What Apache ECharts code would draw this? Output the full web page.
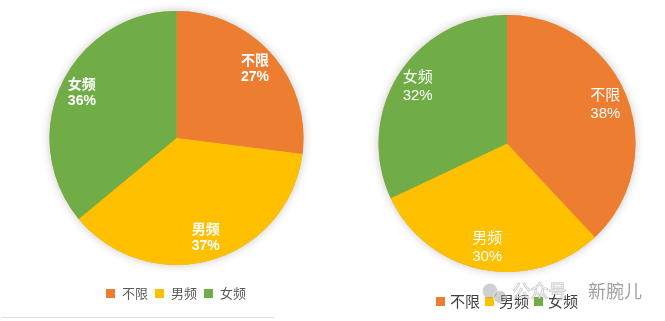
<!DOCTYPE html>
<html><head><meta charset="utf-8">
<script src="https://cdn.jsdelivr.net/npm/echarts@6/dist/echarts.min.js"></script>
<style>html,body{margin:0;padding:0;background:#fff}#c{width:665px;height:321px}</style>
</head><body><div id="c"></div>
<script>
const categories = ['不限', '男频', '女频'];
const leftValues = [27, 37, 36];
const rightValues = [38, 30, 32];
const colors = ['#ED7D31', '#FFC000', '#70AD47'];
const FONT = '"Liberation Sans", "Noto Sans CJK SC", sans-serif';
const FONT_CJK = '"Noto Sans CJK SC", "Noto Sans", sans-serif';

function toData(vals) { return categories.map((c, i) => ({ name: c, value: vals[i], itemStyle: { color: colors[i], borderWidth: 0 } })); }

function pieSet(vals, center, R, labelStyle) {
  return [
    { type: 'pie', silent: true, center: center, radius: R, startAngle: 90, label: { show: false },
      data: [{ name: '_bg', value: 1, itemStyle: { color: '#d9a03c', borderWidth: 0, shadowBlur: 10, shadowColor: 'rgba(0,0,0,0.22)' } }], z: 1 },
    { type: 'pie', silent: true, center: center, radius: R, startAngle: 90, clockwise: true,
      label: { show: false }, labelLine: { show: false }, data: toData(vals), z: 2 },
    { type: 'pie', silent: true, center: center, radius: [R * 0.6, R], startAngle: 90, clockwise: true,
      itemStyle: { color: 'rgba(0,0,0,0)', borderWidth: 0 }, labelLine: { show: false },
      label: Object.assign({ show: true, position: 'inside', color: '#fff', fontFamily: FONT,
        formatter: p => p.name + '\n' + p.value + '%' }, labelStyle),
      data: categories.map((c, i) => ({ name: c, value: vals[i], itemStyle: { color: 'rgba(0,0,0,0)' } })), z: 3 }
  ];
}

const chart = echarts.init(document.getElementById('c'));
chart.setOption({
  animation: false,
  backgroundColor: '#fff',
  legend: [
    { left: 106, top: 287, padding: 0, itemWidth: 9, itemHeight: 9, itemGap: 7, icon: 'rect', selectedMode: false,
      textStyle: { fontSize: 13, color: '#595959', fontFamily: FONT_CJK, padding: [0, 0, 0, 2] },
      data: categories.map((c, i) => ({ name: c, itemStyle: { color: colors[i] } })) },
    { left: 436, top: 294, padding: 0, itemWidth: 9, itemHeight: 9, itemGap: 5, icon: 'rect', selectedMode: false,
      textStyle: { fontSize: 15, color: '#404040', fontFamily: FONT_CJK, padding: [0, 0, 0, 0] },
      data: categories.map((c, i) => ({ name: c, itemStyle: { color: colors[i] } })) }
  ],
  series: [].concat(
    pieSet(leftValues, [176.5, 138], 127, { fontSize: 14, fontWeight: 'bold', lineHeight: 16 }),
    pieSet(rightValues, [507, 143.5], 128.5, { fontSize: 15, fontWeight: 'normal', lineHeight: 18 })
  ),
  graphic: [
    { type: 'line', shape: { x1: 2, y1: 317.5, x2: 274, y2: 317.5 }, style: { stroke: '#dcdcdc', lineWidth: 1 }, silent: true },
    { type: 'circle', shape: { cx: 490, cy: 291, r: 7.5 }, style: { fill: 'rgba(150,150,150,0.45)' }, z: 100 },
    { type: 'circle', shape: { cx: 500, cy: 297, r: 6.5 }, style: { fill: 'rgba(150,150,150,0.45)', stroke: 'rgba(255,255,255,0.6)', lineWidth: 1 }, z: 100 },
    { type: 'text', left: 512, top: 282, z: 100, style: { text: '公众号', fontSize: 18, fontFamily: FONT_CJK, fill: 'rgba(255,255,255,0.55)', stroke: 'rgba(140,140,140,0.55)', lineWidth: 1 } },
    { type: 'text', left: 588, top: 282, z: 100, style: { text: '新腕儿', fontSize: 18, fontFamily: FONT_CJK, fill: 'rgba(130,130,130,0.75)' } }
  ]
});
</script></body></html>
